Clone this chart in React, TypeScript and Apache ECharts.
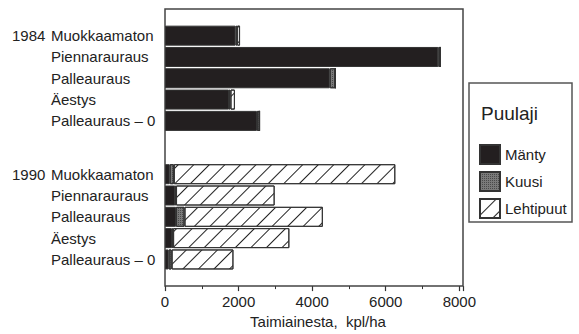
import React, { useEffect, useRef } from "react";
import * as echarts from "echarts";

const treatments = ["Muokkaamaton", "Piennarauraus", "Palleauraus", "Äestys", "Palleauraus – 0"];
const years = ["1984", "1990"];
const seriesNames = ["Mänty", "Kuusi", "Lehtipuut"];

const manty1984 = [1920, 7430, 4480, 1740, 2500];
const kuusi1984 = [40, 50, 150, 40, 70];
const lehti1984 = [80, 0, 0, 120, 0];

const manty1990 = [130, 280, 300, 190, 100];
const kuusi1990 = [110, 20, 230, 30, 80];
const lehti1990 = [6020, 2680, 3760, 3160, 1680];

const xTicks = [0, 2000, 4000, 6000, 8000];
const axisTitle = "Taimiainesta,  kpl/ha";
const legendTitle = "Puulaji";

const FONT = "'Liberation Sans', Arial, sans-serif";

export default function App() {
  const ref = useRef<HTMLDivElement>(null);
  useEffect(() => {
    if (!ref.current) return;
    const chart = echarts.init(ref.current, null, { renderer: "svg" });

    // 26 half-row slots; group rows at every second slot
    const nSlots = 26;
    const groupStarts = [2, 15];
    const cats: string[] = new Array(nSlots).fill("");
    const yearLab: string[] = new Array(nSlots).fill("");
    const m: (number | null)[] = new Array(nSlots).fill(null);
    const k: (number | null)[] = new Array(nSlots).fill(null);
    const l: (number | null)[] = new Array(nSlots).fill(null);
    const groups = [
      [manty1984, kuusi1984, lehti1984],
      [manty1990, kuusi1990, lehti1990],
    ];
    groups.forEach((g, gi) => {
      treatments.forEach((t, ti) => {
        const s = groupStarts[gi] + ti * 2;
        cats[s] = t;
        if (ti === 0) yearLab[s] = years[gi];
        m[s] = g[0][ti];
        k[s] = g[1][ti];
        l[s] = g[2][ti];
      });
    });

    const border = { borderColor: "#333", borderWidth: 1 };
    const option: any = {
      animation: false,
      textStyle: { fontFamily: FONT },
      grid: {
        left: 165,
        top: 9,
        width: 298,
        height: 278.5,
        show: true,
        borderColor: "#444",
        borderWidth: 1.5,
        backgroundColor: "transparent",
      },
      xAxis: {
        type: "value",
        min: 0,
        max: 8100,
        interval: 2000,
        name: axisTitle,
        nameLocation: "middle",
        nameGap: 17,
        nameTextStyle: { fontSize: 15, color: "#222", fontFamily: FONT, padding: [0, 0, 0, 8] },
        axisLine: { show: false },
        axisTick: { show: true, length: 5, lineStyle: { color: "#333", width: 1.2 } },
        minorTick: { show: true, splitNumber: 2, length: 3, lineStyle: { color: "#333" } },
        splitLine: { show: false },
        axisLabel: {
          fontSize: 15,
          color: "#222",
          margin: 8,
          fontFamily: FONT,
          formatter: (v: number) => (xTicks.includes(v) ? String(v) : ""),
          showMaxLabel: false,
        },
      },
      yAxis: {
        type: "category",
        inverse: true,
        data: cats,
        axisLine: { show: false },
        axisTick: { show: false },
        splitLine: { show: false },
        axisLabel: {
          interval: 0,
          align: "left",
          margin: 153,
          fontFamily: FONT,
          formatter: (v: string, i: number) => (v ? `{y|${yearLab[i]}}{n|${v}}` : ""),
          rich: {
            y: { width: 39, fontSize: 15, color: "#222", fontFamily: FONT },
            n: { fontSize: 15, color: "#222", fontFamily: FONT },
          },
        },
      },
      legend: {
        orient: "vertical",
        left: 479,
        top: 144,
        padding: 0,
        itemWidth: 20,
        itemHeight: 19,
        itemGap: 6,
        icon: "rect",
        data: seriesNames,
        textStyle: { fontSize: 15, color: "#222", fontFamily: FONT, padding: [4, 0, 0, 0] },
      },
      graphic: [
        {
          type: "rect",
          shape: { x: 469, y: 83, width: 103, height: 139 },
          style: { fill: "none", stroke: "#555", lineWidth: 1.5 },
        },
        {
          type: "text",
          x: 481,
          y: 113,
          style: { text: legendTitle, fontSize: 19, fill: "#222", fontFamily: FONT, verticalAlign: "middle" },
        },
      ],
      series: [
        {
          name: seriesNames[0],
          type: "bar",
          stack: "t",
          barWidth: 20,
          data: m,
          itemStyle: { color: "#231f20", ...border },
        },
        {
          name: seriesNames[1],
          type: "bar",
          stack: "t",
          barWidth: 20,
          data: k,
          itemStyle: {
            color: "#7a7a7a",
            ...border,
            decal: {
              symbol: "rect",
              color: "#4a4a4a",
              backgroundColor: "#999",
              symbolSize: 1,
              dashArrayX: [1, 1],
              dashArrayY: [1, 1],
            },
          },
        },
        {
          name: seriesNames[2],
          type: "bar",
          stack: "t",
          barWidth: 20,
          data: l,
          itemStyle: {
            color: "#fff",
            ...border,
            decal: {
              symbol: "rect",
              color: "#222",
              backgroundColor: "#fff",
              symbolSize: 1,
              dashArrayX: [1, 0],
              dashArrayY: [1, 10],
              rotation: -Math.PI / 4,
            },
          },
        },
      ],
    };
    chart.setOption(option);
    return () => chart.dispose();
  }, []);
  return <div ref={ref} style={{ width: 579, height: 334, position: "absolute", left: 0, top: 0 }} />;
}
